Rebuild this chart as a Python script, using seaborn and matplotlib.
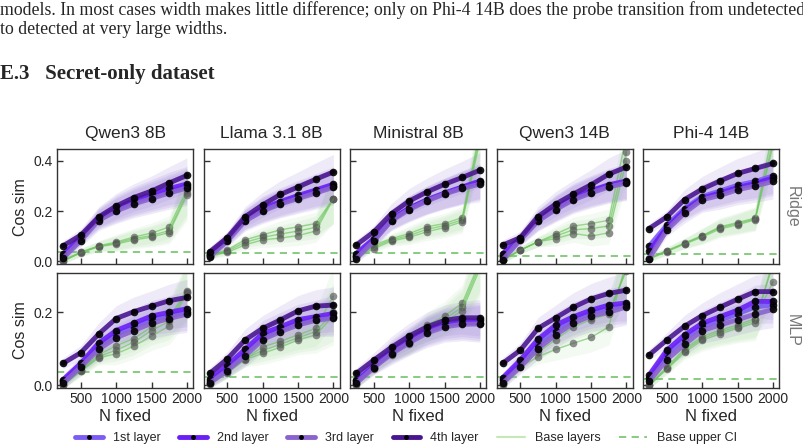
import numpy as np
import pandas as pd
import matplotlib
matplotlib.use("Agg")
import matplotlib.pyplot as plt
from matplotlib.lines import Line2D
import seaborn as sns

sns.set_style("ticks")
plt.rcParams["font.family"] = ["Liberation Sans", "DejaVu Sans"]

# ---- data ----
models = ["Qwen3 8B", "Llama 3.1 8B", "Ministral 8B", "Qwen3 14B", "Phi-4 14B"]
probes = ["Ridge", "MLP"]
n_fixed = [250, 500, 750, 1000, 1250, 1500, 1750, 2000]
layer_names = ["1st layer", "2nd layer", "3rd layer", "4th layer"]

# each: [1st, 2nd, 3rd, 4th layer]
ridge_qwen3_8b = [
    [0.020, 0.090, 0.168, 0.205, 0.235, 0.258, 0.280, 0.300],
    [0.028, 0.095, 0.172, 0.212, 0.242, 0.266, 0.290, 0.308],
    [0.012, 0.082, 0.162, 0.200, 0.228, 0.250, 0.272, 0.292],
    [0.061, 0.104, 0.176, 0.220, 0.254, 0.280, 0.312, 0.342]]
ridge_llama_8b = [
    [0.025, 0.086, 0.165, 0.205, 0.232, 0.256, 0.278, 0.300],
    [0.030, 0.090, 0.168, 0.210, 0.238, 0.262, 0.284, 0.307],
    [0.018, 0.080, 0.160, 0.200, 0.228, 0.250, 0.272, 0.295],
    [0.037, 0.094, 0.177, 0.225, 0.266, 0.296, 0.327, 0.356]]
ridge_ministral_8b = [
    [0.020, 0.085, 0.165, 0.210, 0.243, 0.270, 0.294, 0.315],
    [0.030, 0.090, 0.168, 0.212, 0.245, 0.272, 0.296, 0.320],
    [0.010, 0.080, 0.162, 0.206, 0.240, 0.268, 0.290, 0.307],
    [0.064, 0.117, 0.190, 0.240, 0.276, 0.307, 0.334, 0.363]]
ridge_qwen3_14b = [
    [0.015, 0.088, 0.163, 0.210, 0.250, 0.277, 0.300, 0.315],
    [0.030, 0.092, 0.166, 0.214, 0.255, 0.282, 0.305, 0.320],
    [0.005, 0.085, 0.160, 0.206, 0.245, 0.272, 0.296, 0.312],
    [0.064, 0.094, 0.178, 0.228, 0.268, 0.305, 0.347, 0.376]]
ridge_phi4_14b = [
    [0.060, 0.144, 0.210, 0.258, 0.280, 0.303, 0.318, 0.340],
    [0.040, 0.135, 0.203, 0.252, 0.272, 0.294, 0.310, 0.332],
    [0.010, 0.124, 0.192, 0.245, 0.262, 0.285, 0.300, 0.318],
    [0.130, 0.177, 0.246, 0.288, 0.320, 0.350, 0.370, 0.390]]

mlp_qwen3_8b = [
    [0.010, 0.055, 0.105, 0.140, 0.160, 0.180, 0.190, 0.200],
    [0.015, 0.060, 0.115, 0.150, 0.170, 0.190, 0.200, 0.210],
    [0.005, 0.050, 0.098, 0.130, 0.150, 0.170, 0.183, 0.195],
    [0.060, 0.089, 0.140, 0.183, 0.202, 0.217, 0.232, 0.241]]
mlp_llama_8b = [
    [0.010, 0.045, 0.088, 0.130, 0.153, 0.170, 0.182, 0.188],
    [0.018, 0.055, 0.098, 0.142, 0.160, 0.180, 0.188, 0.197],
    [0.005, 0.040, 0.080, 0.125, 0.147, 0.165, 0.178, 0.184],
    [0.032, 0.072, 0.124, 0.156, 0.179, 0.204, 0.217, 0.220]]
mlp_ministral_8b = [
    [0.015, 0.058, 0.095, 0.125, 0.152, 0.170, 0.178, 0.178],
    [0.010, 0.052, 0.090, 0.120, 0.148, 0.165, 0.172, 0.172],
    [0.005, 0.048, 0.086, 0.116, 0.143, 0.160, 0.167, 0.168],
    [0.032, 0.069, 0.104, 0.135, 0.160, 0.178, 0.185, 0.185]]
mlp_qwen3_14b = [
    [0.015, 0.060, 0.110, 0.150, 0.178, 0.198, 0.210, 0.220],
    [0.020, 0.069, 0.126, 0.165, 0.188, 0.206, 0.220, 0.226],
    [0.005, 0.050, 0.100, 0.138, 0.170, 0.190, 0.200, 0.215],
    [0.060, 0.096, 0.156, 0.185, 0.214, 0.237, 0.252, 0.261]]
mlp_phi4_14b = [
    [0.020, 0.085, 0.128, 0.160, 0.178, 0.196, 0.215, 0.220],
    [0.028, 0.096, 0.138, 0.170, 0.188, 0.206, 0.230, 0.230],
    [0.010, 0.070, 0.112, 0.150, 0.165, 0.180, 0.195, 0.208],
    [0.083, 0.124, 0.162, 0.191, 0.214, 0.236, 0.257, 0.257]]

# base (untrained) layers
ridge_qwen3_8b_base = [
    [0.004, 0.036, 0.061, 0.076, 0.096, 0.112, 0.136, 0.285],
    [0.000, 0.035, 0.059, 0.072, 0.090, 0.102, 0.122, 0.272],
    [0.000, 0.033, 0.057, 0.068, 0.084, 0.096, 0.114, 0.262]]
ridge_llama_8b_base = [
    [0.024, 0.045, 0.085, 0.105, 0.125, 0.137, 0.150, 0.250],
    [0.022, 0.040, 0.075, 0.095, 0.108, 0.120, 0.135, 0.250],
    [0.020, 0.035, 0.065, 0.085, 0.092, 0.102, 0.120, 0.248]]
ridge_ministral_8b_base = [
    [0.020, 0.064, 0.090, 0.110, 0.137, 0.150, 0.174, 0.520],
    [0.018, 0.057, 0.085, 0.102, 0.127, 0.142, 0.165, 0.500],
    [0.015, 0.050, 0.080, 0.095, 0.117, 0.134, 0.157, 0.480]]
ridge_qwen3_14b_base = [
    [0.004, 0.044, 0.077, 0.108, 0.140, 0.150, 0.163, 0.500],
    [0.004, 0.044, 0.077, 0.100, 0.125, 0.130, 0.140, 0.435],
    [0.004, 0.044, 0.077, 0.090, 0.110, 0.100, 0.113, 0.400]]
ridge_phi4_14b_base = [
    [0.012, 0.042, 0.072, 0.102, 0.137, 0.154, 0.172, 0.520],
    [0.010, 0.040, 0.070, 0.100, 0.133, 0.150, 0.168, 0.480],
    [0.008, 0.038, 0.068, 0.096, 0.128, 0.145, 0.165, 0.460]]

mlp_qwen3_8b_base = [
    [0.000, 0.042, 0.083, 0.108, 0.128, 0.160, 0.185, 0.260],
    [0.000, 0.040, 0.078, 0.096, 0.118, 0.150, 0.175, 0.256],
    [0.000, 0.038, 0.075, 0.086, 0.107, 0.135, 0.162, 0.252]]
mlp_llama_8b_base = [
    [0.005, 0.037, 0.073, 0.105, 0.120, 0.138, 0.156, 0.245],
    [0.004, 0.035, 0.073, 0.095, 0.112, 0.130, 0.147, 0.200],
    [0.003, 0.033, 0.070, 0.087, 0.104, 0.124, 0.138, 0.190]]
mlp_ministral_8b_base = [
    [0.003, 0.048, 0.090, 0.120, 0.165, 0.190, 0.225, 0.340],
    [0.002, 0.046, 0.087, 0.116, 0.155, 0.180, 0.215, 0.330],
    [0.001, 0.044, 0.084, 0.112, 0.148, 0.172, 0.205, 0.320]]
mlp_qwen3_14b_base = [
    [0.000, 0.050, 0.078, 0.098, 0.115, 0.131, 0.160, 0.340],
    [0.003, 0.052, 0.090, 0.125, 0.160, 0.180, 0.195, 0.320],
    [0.005, 0.055, 0.100, 0.140, 0.170, 0.185, 0.200, 0.315]]
mlp_phi4_14b_base = [
    [0.000, 0.050, 0.100, 0.133, 0.151, 0.165, 0.183, 0.284],
    [0.000, 0.046, 0.095, 0.128, 0.146, 0.160, 0.178, 0.330],
    [0.000, 0.043, 0.090, 0.123, 0.141, 0.156, 0.172, 0.340]]

# base upper CI per model
ridge_base_ci = [0.036, 0.033, 0.033, 0.021, 0.028]
mlp_base_ci = [0.037, 0.021, 0.021, 0.021, 0.016]

# half-width of shaded bands
ridge_layer_spread = [0.020, 0.025, 0.040, 0.050, 0.055, 0.060, 0.065, 0.070]
ridge_base_spread = [0.012, 0.015, 0.020, 0.030, 0.035, 0.040, 0.045, 0.100]
mlp_layer_spread = [0.015, 0.020, 0.030, 0.035, 0.040, 0.042, 0.045, 0.050]
mlp_base_spread = [0.010, 0.015, 0.020, 0.030, 0.035, 0.040, 0.050, 0.080]

layers = {
    "Ridge": [ridge_qwen3_8b, ridge_llama_8b, ridge_ministral_8b, ridge_qwen3_14b, ridge_phi4_14b],
    "MLP": [mlp_qwen3_8b, mlp_llama_8b, mlp_ministral_8b, mlp_qwen3_14b, mlp_phi4_14b],
}
bases = {
    "Ridge": [ridge_qwen3_8b_base, ridge_llama_8b_base, ridge_ministral_8b_base,
              ridge_qwen3_14b_base, ridge_phi4_14b_base],
    "MLP": [mlp_qwen3_8b_base, mlp_llama_8b_base, mlp_ministral_8b_base,
            mlp_qwen3_14b_base, mlp_phi4_14b_base],
}
base_ci = {"Ridge": ridge_base_ci, "MLP": mlp_base_ci}
spreads = {"Ridge": (ridge_layer_spread, ridge_base_spread),
           "MLP": (mlp_layer_spread, mlp_base_spread)}
ylims = {"Ridge": (-0.012, 0.447), "MLP": (-0.008, 0.308)}

layer_colors = ["#7b5cf5", "#6a1ff7", "#8a63cf", "#4a1690"]
base_color = "#6cc35c"
ci_color = "#7cc874"
fill_purple = "#9b7fd8"

fig, axes = plt.subplots(2, 5, figsize=(8.04, 4.48), dpi=100, sharex=True)
fig.subplots_adjust(left=0.0709, right=0.969, bottom=0.134, top=0.667,
                    wspace=0.077, hspace=0.078)

x = np.array(n_fixed)
for r, probe in enumerate(probes):
    lsp, bsp = spreads[probe]
    for c, model in enumerate(models):
        ax = axes[r, c]
        # base layers
        for b in bases[probe][c]:
            b = np.array(b)
            ax.fill_between(x, b - np.array(bsp), b + np.array(bsp),
                            color=base_color, alpha=0.08, lw=0)
        for b in bases[probe][c]:
            df = pd.DataFrame({"n": n_fixed, "v": b})
            sns.lineplot(data=df, x="n", y="v", ax=ax, color=base_color, lw=1,
                         alpha=0.65, marker="o", markersize=5.5,
                         markerfacecolor="#555555", markeredgecolor="none",
                         zorder=2)
        ax.axhline(base_ci[probe][c], color=ci_color, lw=1.3, ls=(0, (4, 3)),
                   zorder=1)
        # probe layers
        for vals in layers[probe][c]:
            v = np.array(vals)
            ax.fill_between(x, v - np.array(lsp), v + np.array(lsp),
                            color=fill_purple, alpha=0.16, lw=0)
        for vals, col in zip(layers[probe][c], layer_colors):
            df = pd.DataFrame({"n": n_fixed, "v": vals})
            sns.lineplot(data=df, x="n", y="v", ax=ax, color=col, lw=3.5,
                         alpha=0.9, marker="o", markersize=5.5,
                         markerfacecolor="black", markeredgecolor="none",
                         zorder=3)
        ax.set_ylim(*ylims[probe])
        ax.set_xlim(162.5, 2087.5)
        ax.set_xticks([500, 1000, 1500, 2000])
        ax.set_yticks([0.0, 0.2, 0.4] if probe == "Ridge" else [0.0, 0.2])
        ax.tick_params(direction="in", length=4, width=1, labelsize=10,
                       color="#333333", pad=3)
        for s in ax.spines.values():
            s.set_color("#333333")
            s.set_linewidth(1)
        ax.set_xlabel("N fixed" if r == 1 else "", fontsize=12, labelpad=2)
        if c == 0:
            ax.set_ylabel("Cos sim", fontsize=11.5)
        else:
            ax.set_ylabel("")
            ax.set_yticklabels([])
        if r == 0:
            ax.set_title(model, fontsize=12.5, pad=8)
        if c == 4:
            ax.text(1.04, 0.5, probe, transform=ax.transAxes, rotation=270,
                    va="center", ha="left", fontsize=11.5, color="#777777")

handles = [Line2D([], [], color=col, lw=3.5, marker="o", markersize=3.5,
                  markerfacecolor="black", markeredgecolor="none")
           for col in layer_colors]
handles.append(Line2D([], [], color="#c4e9b6", lw=1.5))
handles.append(Line2D([], [], color=ci_color, lw=1.3, ls=(0, (4, 3))))
fig.legend(handles, layer_names + ["Base layers", "Base upper CI"],
           loc="lower center", bbox_to_anchor=(0.505, -0.016), ncol=6,
           frameon=False, fontsize=9, handlelength=2.2, columnspacing=1.5,
           handletextpad=0.8)

fig.text(0.0, 0.998, "models. In most cases width makes little difference; only on "
         "Phi-4 14B does the probe transition from undetected",
         family="Liberation Serif", fontsize=12.75, va="top", ha="left")
fig.text(0.0, 0.953, "to detected at very large widths.",
         family="Liberation Serif", fontsize=12.75, va="top", ha="left")
fig.text(0.0, 0.858, "E.3   Secret-only dataset", family="Liberation Serif",
         fontsize=15, fontweight="bold", va="top", ha="left")

fig.savefig("out.png", dpi=100)
